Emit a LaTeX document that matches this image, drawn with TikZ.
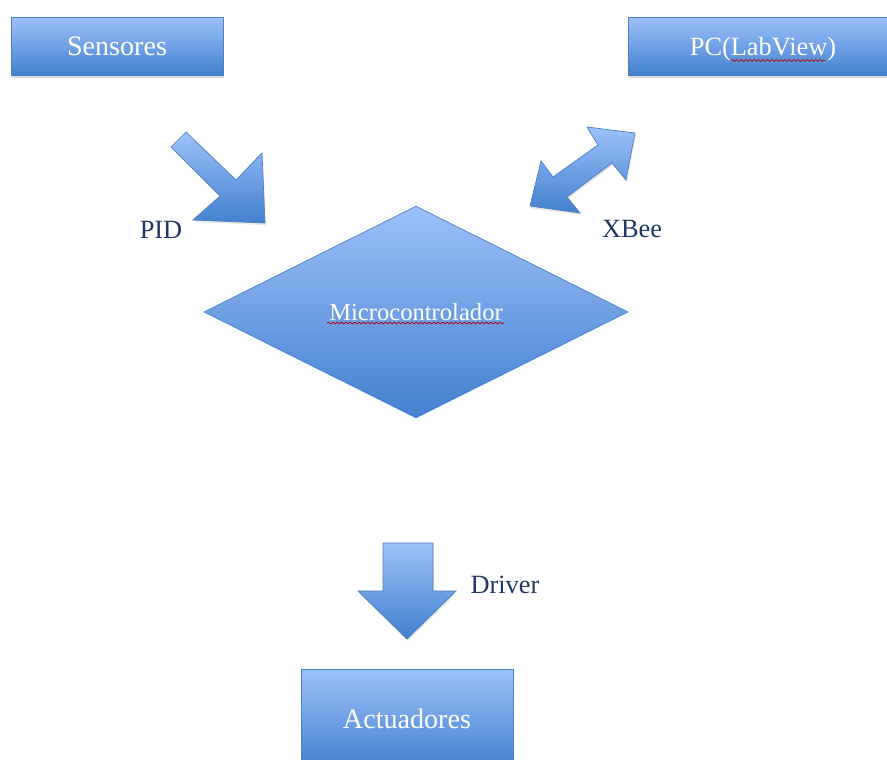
\documentclass[tikz,border=0pt]{standalone}
\usepackage{fontspec}
\setmainfont{Liberation Serif}
\usepackage{tikz}
\usetikzlibrary{positioning,shapes.geometric,shadows,decorations.pathmorphing}
\definecolor{azulclaro}{RGB}{157,193,250}
\definecolor{azuloscuro}{RGB}{66,128,207}
\definecolor{borde}{RGB}{79,129,189}
\definecolor{texto}{RGB}{31,56,100}
\tikzset{%
  caja/.style = {rectangle,draw=borde,top color=azulclaro,bottom color=azuloscuro,
        text=white,font=\fontsize{16}{19}\selectfont,minimum width=4.24cm,
        minimum height=1.16cm,
        drop shadow={shadow xshift=0.6pt,shadow yshift=-1.8pt,opacity=0.3}},
  rombo/.style = {diamond,draw=borde,top color=azulclaro,bottom color=azuloscuro,
        text=white,font=\fontsize{14}{17}\selectfont,inner sep=0pt,
        minimum width=8.48cm,minimum height=4.24cm},
  flecha/.style = {draw=borde,top color=azulclaro,bottom color=azuloscuro,
        drop shadow={shadow xshift=0.5pt,shadow yshift=-1.2pt,opacity=0.2}},
  etiqueta/.style = {text=texto,font=\fontsize{15}{18}\selectfont},
  subrayado/.style = {draw=red!70!black,line width=0.4pt,decorate,
        decoration={snake,amplitude=0.5pt,segment length=2.5pt}}
}
\begin{document}
\begin{tikzpicture}[x=0.02cm,y=-0.02cm]
                    \useasboundingbox (0,0) rectangle (887,760);
                    \node[caja] (sens) at (117,46) {Sensores};
                    \node[caja,minimum width=5.4cm,font=\fontsize{15}{18}\selectfont,
                        text depth=0pt] (pc) at (763,46) {PC(LabView)};
                    \node[rombo] (micro) at (416,312) {Microcontrolador};
                    \node[caja,minimum height=2cm] (act) at (407,719) {Actuadores};

                    % flechas de bloque
                    \path[flecha] (186,132) -- (236,180) -- (262,153) -- (265,223)
                        -- (193,220) -- (220,196) -- (171,147) -- cycle;
                    \path[flecha] (635,133) -- (626,180) -- (612,163) -- (567,197)
                        -- (580,213) -- (530,206) -- (541,161) -- (553,177)
                        -- (598,145) -- (587,127) -- cycle;
                    \path[flecha] (383,543) -- (433,543) -- (433,591) -- (456,591)
                        -- (407,639) -- (358,591) -- (383,591) -- cycle;

                    \node[etiqueta] (pid) at (161,230) {PID};
                    \node[etiqueta] (xbee) at (632,229) {XBee};
                    \node[etiqueta] (drv) at (505,585) {Driver};

                    % subrayado del corrector
                    \draw[subrayado] (327,323) -- (504,323);
                    \draw[subrayado] (731,60.5) -- (825,60.5);
                 \end{tikzpicture}
\end{document}
